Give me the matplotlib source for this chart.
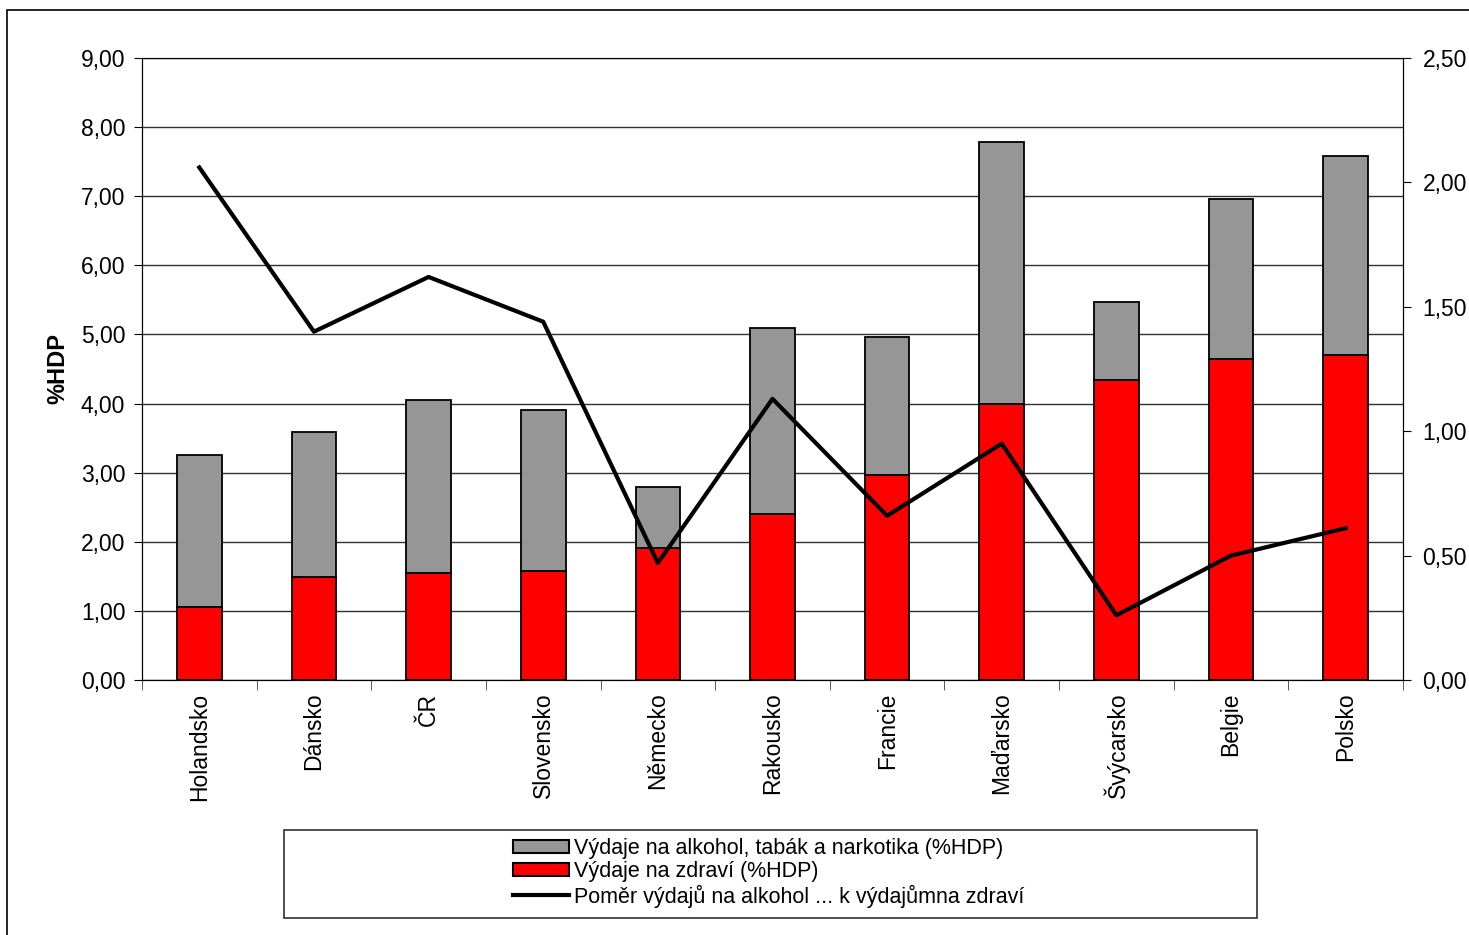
import numpy as np
import matplotlib.pyplot as plt
from matplotlib.patches import Rectangle
from matplotlib.lines import Line2D

plt.rcParams['font.family'] = ['Liberation Sans', 'DejaVu Sans']

countries = ['Holandsko', 'Dánsko', 'ČR', 'Slovensko', 'Německo', 'Rakousko',
             'Francie', 'Maďarsko', 'Švýcarsko', 'Belgie', 'Polsko']
zdravi = [1.06, 1.49, 1.55, 1.58, 1.91, 2.40, 2.97, 3.99, 4.34, 4.65, 4.70]
celkem = [3.26, 3.59, 4.05, 3.91, 2.79, 5.09, 4.96, 7.79, 5.47, 6.96, 7.58]
alkohol = [c - z for c, z in zip(celkem, zdravi)]
pomer = [2.06, 1.40, 1.62, 1.44, 0.47, 1.13, 0.66, 0.95, 0.26, 0.50, 0.61]

lab_alk = 'Výdaje na alkohol, tabák a narkotika (%HDP)'
lab_zdr = 'Výdaje na zdraví (%HDP)'
lab_pom = 'Poměr výdajů na alkohol ... k výdajůmna zdraví'

W, H = 1469, 935
fig = plt.figure(figsize=(W / 100, H / 100), dpi=100)
# outer chart frame
fig.add_artist(Rectangle((7 / W, -0.01), 1.1, (H - 10) / H + 0.01, transform=fig.transFigure,
                         fill=False, edgecolor='black', linewidth=1.2))

ax = fig.add_axes([142 / W, 1 - 680 / H, (1403 - 142) / W, (680 - 58) / H])
x = np.arange(len(countries))
w = 0.39
ax.bar(x, zdravi, w, color='#ff0000', edgecolor='black', linewidth=1.3, zorder=3)
ax.bar(x, alkohol, w, bottom=zdravi, color='#969696', edgecolor='black', linewidth=1.3, zorder=3)

yt = np.arange(0, 9.01, 1)
ax.set_ylim(0, 9)
ax.set_xlim(-0.5, len(countries) - 0.5)
ax.set_yticks(yt)
ax.set_yticklabels([f'{v:.2f}'.replace('.', ',') for v in yt], fontsize=16.5)
ax.grid(axis='y', color='#303030', linewidth=1, zorder=0)
ax.set_axisbelow(True)
ax.set_xticks(x)
ax.set_xticklabels(countries, rotation=90, fontsize=16.5, va='top')
ax.tick_params(axis='x', length=0, pad=9)
ax.set_xticks(np.arange(-0.5, len(countries), 1), minor=True)
ax.tick_params(axis='x', which='minor', length=7, color='#404040')
ax.tick_params(axis='y', length=6, direction='out', color='black', pad=6)
ax.spines['top'].set_color('#808080')
ax.spines['bottom'].set_color('#404040')
ax.set_ylabel('%HDP', fontsize=17, fontweight='bold', labelpad=8)

ax2 = ax.twinx()
ax2.plot(x, pomer, color='black', linewidth=3, zorder=5)
ax2.set_ylim(0, 2.5)
yt2 = np.arange(0, 2.51, 0.5)
ax2.set_yticks(yt2)
ax2.set_yticklabels([f'{v:.2f}'.replace('.', ',') for v in yt2], fontsize=16.5)
ax2.tick_params(axis='y', length=6, direction='out', pad=8)

# legend box
fig.add_artist(Rectangle((284 / W, 1 - 918 / H), (1257 - 284) / W, (918 - 830) / H,
                         transform=fig.transFigure, fill=False, edgecolor='#303030', linewidth=1.2))
handles = [Rectangle((0, 0), 1, 1, facecolor='#969696', edgecolor='black', linewidth=1.5),
           Rectangle((0, 0), 1, 1, facecolor='#ff0000', edgecolor='black', linewidth=1.5),
           Line2D([0], [0], color='black', linewidth=3)]
fig.legend(handles, [lab_alk, lab_zdr, lab_pom], loc='upper left',
           bbox_to_anchor=(498 / W, 1 - 823 / H),
           fontsize=15.5, frameon=False, handlelength=2.6, handleheight=0.6,
           handletextpad=0.25, labelspacing=0.1, borderpad=0.2)

fig.savefig('out.png', dpi=100)
